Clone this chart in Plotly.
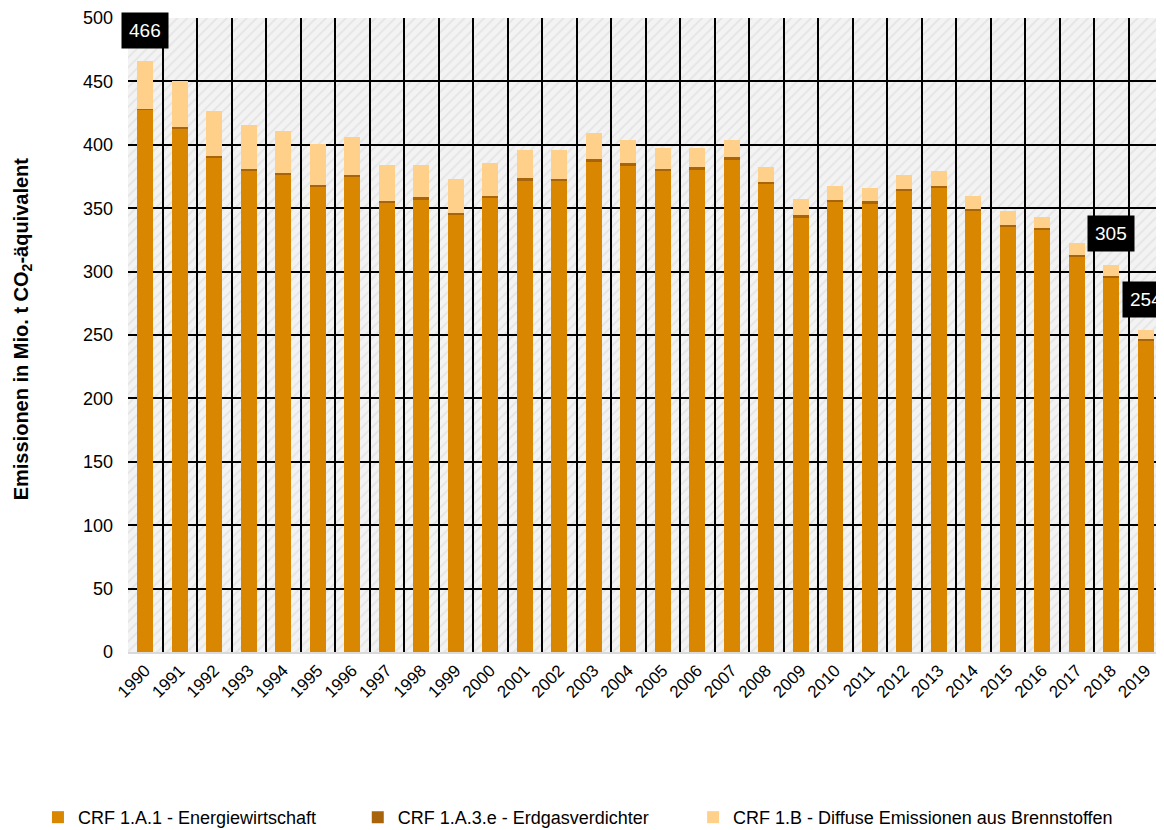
import plotly.graph_objects as go

years = [str(y) for y in range(1990, 2020)]
energiewirtschaft = [427.5, 412.5, 390.0, 379.0, 376.0, 366.5, 374.5, 354.0, 356.5, 344.5,
                     358.0, 371.5, 371.5, 386.5, 383.5, 379.0, 380.5, 388.0, 368.7, 342.6,
                     355.0, 353.5, 364.0, 366.5, 347.5, 335.5, 333.0, 311.5, 295.5, 246.0]
erdgasverdichter = [0.5, 1.5, 1.5, 2.0, 2.0, 2.0, 2.0, 2.0, 2.0, 1.7,
                    2.0, 2.0, 1.8, 2.0, 2.0, 2.0, 2.0, 2.0, 2.0, 2.0,
                    1.7, 1.9, 1.0, 1.0, 1.6, 1.5, 1.4, 1.6, 1.3, 1.1]
diffuse = [38.0, 36.3, 35.0, 34.6, 33.0, 32.0, 30.0, 28.0, 25.6, 27.0,
           25.6, 22.3, 22.6, 21.0, 18.0, 16.5, 15.0, 13.5, 11.8, 12.4,
           10.8, 10.5, 11.4, 12.0, 10.8, 10.8, 8.9, 9.2, 8.2, 7.0]

series_names = ["CRF 1.A.1 - Energiewirtschaft", "CRF 1.A.3.e - Erdgasverdichter",
                "CRF 1.B - Diffuse Emissionen aus Brennstoffen"]
series_colors = ["#D98600", "#A8640A", "#FFD08A"]
legend_ids = ["legend", "legend2", "legend3"]
legend_x = [-0.087, 0.222, 0.546]

label_years = ["1990", "2018", "2019"]
label_texts = ["466", "305", "254"]
label_y = [490, 330, 278]

FONT = "Liberation Sans"

fig = go.Figure()

# hatched plot background (separate subplot under the data subplot)
fig.add_trace(go.Bar(x=[0.5], y=[1], width=[1], xaxis="x", yaxis="y",
                     marker=dict(color="#f3f3f3", line=dict(width=0),
                                 pattern=dict(shape="/", fgcolor="#d6d6d6", bgcolor="#f3f3f3",
                                              size=7, solidity=0.25)),
                     showlegend=False, hoverinfo="skip"))

for name, vals, col, lg in zip(series_names, [energiewirtschaft, erdgasverdichter, diffuse],
                               series_colors, legend_ids):
    fig.add_trace(go.Bar(x=years, y=vals, name=name, xaxis="x2", yaxis="y2", legend=lg,
                         marker=dict(color=col, line=dict(width=0))))

for yr, txt, yv in zip(label_years, label_texts, label_y):
    fig.add_annotation(x=years.index(yr), y=yv, xref="x2", yref="y2", text=txt, showarrow=False,
                       font=dict(family=FONT, size=19, color="white"),
                       bgcolor="black", borderpad=7)

fig.add_annotation(x=-0.1024, y=0.509, xref="paper", yref="paper", textangle=-90,
                   xanchor="center", yanchor="middle",
                   text="<b>Emissionen in Mio. t CO<sub>2</sub>-äquivalent</b>", showarrow=False,
                   font=dict(family=FONT, size=20, color="black"))

legend_common = dict(orientation="h", y=-0.261, xanchor="left", yanchor="middle",
                     font=dict(family=FONT, size=18, color="black"), itemwidth=30,
                     bgcolor="rgba(0,0,0,0)")

fig.update_layout(
    width=1156, height=822,
    margin=dict(l=120, r=1, t=10, b=178, autoexpand=False),
    paper_bgcolor="white", plot_bgcolor="rgba(0,0,0,0)",
    barmode="stack", bargap=0.55,
    font=dict(family=FONT, size=15, color="black"),
    xaxis=dict(range=[0, 1], visible=False, domain=[0, 1], fixedrange=True),
    yaxis=dict(range=[0, 1], visible=False, domain=[0, 1], fixedrange=True),
    xaxis2=dict(domain=[0, 1], anchor="y2", type="category", tickson="boundaries",
                categoryorder="array", categoryarray=years,
                range=[-0.5, len(years) - 0.5],
                showgrid=True, gridcolor="black", gridwidth=2, ticks="",
                tickangle=-45, tickfont=dict(family=FONT, size=17, color="black"),
                showline=True, linecolor="#d9d9d9", linewidth=2),
    yaxis2=dict(domain=[0, 1], anchor="x2", range=[0, 500], dtick=50,
                showgrid=True, gridcolor="black", gridwidth=2, zeroline=False,
                tickfont=dict(family=FONT, size=18, color="black"), ticks="",
                ticklabelstandoff=14),
    legend=dict(x=legend_x[0], **legend_common),
    legend2=dict(x=legend_x[1], **legend_common),
    legend3=dict(x=legend_x[2], **legend_common),
)

fig.write_html("out.html")
